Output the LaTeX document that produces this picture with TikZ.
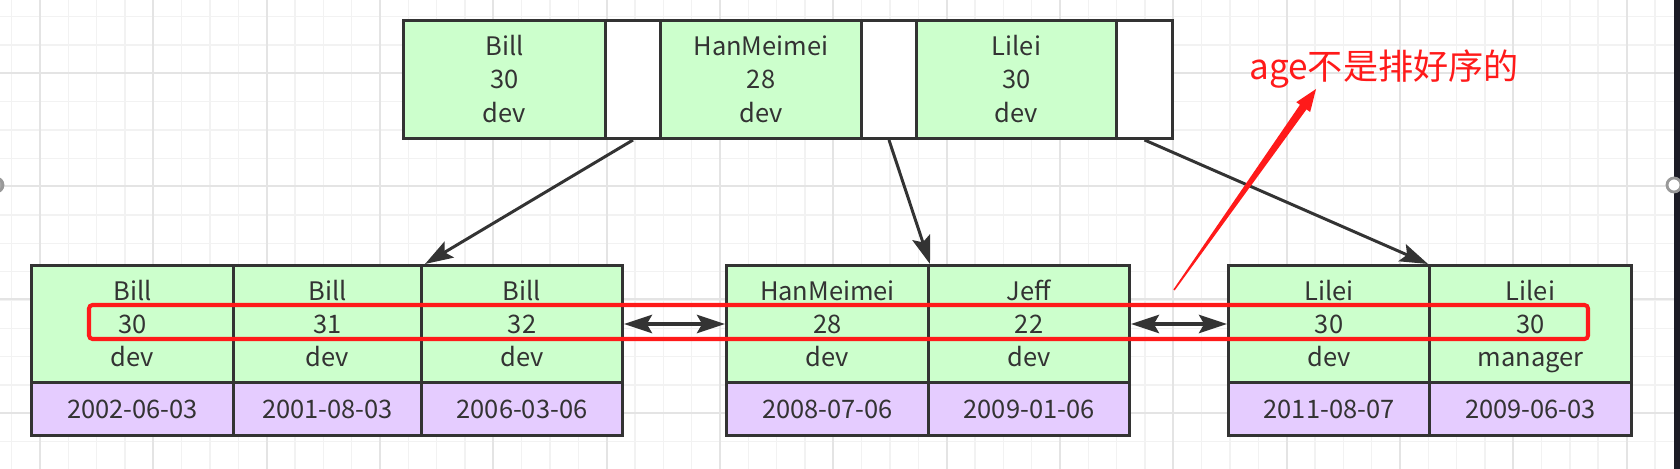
\documentclass[tikz,border=0pt]{standalone}
\usepackage{fontspec}
\setmainfont{Noto Sans CJK SC}
\usetikzlibrary{arrows.meta}
\usetikzlibrary{calc}

\definecolor{cellgreen}{HTML}{CCFFCC}
\definecolor{cellpurple}{HTML}{E5CCFF}
\definecolor{linegray}{HTML}{333333}
\definecolor{gridminor}{HTML}{F2F2F2}
\definecolor{gridmajor}{HTML}{E4E4E4}
\definecolor{notered}{HTML}{FF1A1A}
\definecolor{edgebar}{HTML}{1C1C26}
\newcommand{\pxu}{0.02cm}
\newcommand{\keystrut}{\rule[-3.5pt]{0pt}{17.8pt}}
\newcommand{\rowkey}[3]{\keystrut#1\\\keystrut#2\\\keystrut#3}

\tikzset{
  keycell/.style={draw=linegray, line width=1.7pt, fill=cellgreen, text=linegray,
    inner sep=0pt, anchor=north west, align=center,
    font=\fontsize{14.5}{17}\selectfont},
  ptrcell/.style={keycell, fill=white},
  datecell/.style={keycell, fill=cellpurple},
  gridthin/.style={draw=gridminor, line width=0.8pt},
  gridthick/.style={draw=gridmajor, line width=1pt},
  treearrow/.style={draw=linegray, line width=1.7pt,
    -{Stealth[length=16pt, width=10.5pt, inset=3pt]}},
  linkarrow/.style={draw=linegray, line width=1.8pt,
    {Stealth[length=16pt, width=10.5pt, inset=3pt]}-{Stealth[length=16pt, width=10.5pt, inset=3pt]}}
}

\begin{document}
\begin{tikzpicture}[x=0.02cm, y=-0.02cm]
  \useasboundingbox (0,0) rectangle (1680,469);
  \clip (0,0) rectangle (1680,469);

  % background grid
  \foreach \i in {0,...,59}
    \draw[gridthin] ({11.7+28.33*\i},0) -- ++(0,469);
  \foreach \j in {0,...,16}
    \draw[gridthin] (0,{16.7+28.33*\j}) -- ++(1680,0);
  \foreach \i in {0,...,14}
    \draw[gridthick] ({40+113.33*\i},0) -- ++(0,469);
  \foreach \j in {0,...,3}
    \draw[gridthick] (0,{72.7+113.33*\j}) -- ++(1680,0);

  % root page
  \node[keycell, minimum width=202*\pxu, minimum height=118*\pxu] (t1) at (402,19) {\rowkey{Bill}{30}{dev}};
  \node[ptrcell, minimum width=55*\pxu, minimum height=118*\pxu] (tw1) at (604,19) {};
  \node[keycell, minimum width=201*\pxu, minimum height=118*\pxu] (t2) at (659,19) {\rowkey{HanMeimei}{28}{dev}};
  \node[ptrcell, minimum width=55*\pxu, minimum height=118*\pxu] (tw2) at (860,19) {};
  \node[keycell, minimum width=200*\pxu, minimum height=118*\pxu] (t3) at (915,19) {\rowkey{Lilei}{30}{dev}};
  \node[ptrcell, minimum width=56*\pxu, minimum height=118*\pxu] (tw3) at (1115,19) {};

  % leaf pages
  \node[keycell, minimum width=202*\pxu, minimum height=117*\pxu] (l1) at (30,264) {\rowkey{Bill}{30}{dev}};
  \node[keycell, minimum width=188*\pxu, minimum height=117*\pxu] (l2) at (232,264) {\rowkey{Bill}{31}{dev}};
  \node[keycell, minimum width=201*\pxu, minimum height=117*\pxu] (l3) at (420,264) {\rowkey{Bill}{32}{dev}};
  \node[datecell, minimum width=202*\pxu, minimum height=53*\pxu] (l1d) at (30,381) {2002-06-03};
  \node[datecell, minimum width=188*\pxu, minimum height=53*\pxu] (l2d) at (232,381) {2001-08-03};
  \node[datecell, minimum width=201*\pxu, minimum height=53*\pxu] (l3d) at (420,381) {2006-03-06};

  \node[keycell, minimum width=202*\pxu, minimum height=117*\pxu] (m1) at (725,264) {\rowkey{HanMeimei}{28}{dev}};
  \node[keycell, minimum width=201*\pxu, minimum height=117*\pxu] (m2) at (927,264) {\rowkey{Jeff}{22}{dev}};
  \node[datecell, minimum width=202*\pxu, minimum height=53*\pxu] (m1d) at (725,381) {2008-07-06};
  \node[datecell, minimum width=201*\pxu, minimum height=53*\pxu] (m2d) at (927,381) {2009-01-06};

  \node[keycell, minimum width=201*\pxu, minimum height=117*\pxu] (r1) at (1227,264) {\rowkey{Lilei}{30}{dev}};
  \node[keycell, minimum width=202*\pxu, minimum height=117*\pxu] (r2) at (1428,264) {\rowkey{Lilei}{30}{manager}};
  \node[datecell, minimum width=201*\pxu, minimum height=53*\pxu] (r1d) at (1227,381) {2011-08-07};
  \node[datecell, minimum width=202*\pxu, minimum height=53*\pxu] (r2d) at (1428,381) {2009-06-03};

  % pointers
  \draw[treearrow] (tw1.south) -- ([xshift=5*\pxu]l3.north west);
  \draw[treearrow] (tw2.south) -- ([xshift=3*\pxu]m2.north west);
  \draw[treearrow] (tw3.south) -- (r2.north west);
  \draw[linkarrow] (l3.east) -- (m1.west);
  \draw[linkarrow] (m2.east) -- (r1.west);

  % age highlight
  \node[draw=notered, line width=2.3pt, rounded corners=2pt, inner sep=0pt,
    minimum width=1499*\pxu, minimum height=34*\pxu] (agebox) at (838.5,322) {};
  \node[text=notered, font=\fontsize{20}{24}\selectfont, inner sep=0pt] (agenote) at (1384,69) {age不是排好序的};
  \coordinate (redtail) at (1174,290);
  \coordinate (redtip) at (1316,89);
  \coordinate (hb) at ($(redtip)!0.09!(redtail)$);
  \fill[notered] ($(redtail)!0.016cm!90:(redtip)$) -- ($(hb)!0.08cm!90:(redtip)$)
    -- ($(hb)!0.17cm!90:(redtip)$) -- (redtip) -- ($(hb)!0.17cm!-90:(redtip)$)
    -- ($(hb)!0.08cm!-90:(redtip)$) -- ($(redtail)!0.016cm!-90:(redtip)$) -- cycle;

  % canvas edge
  \fill[edgebar] (1674,0) rectangle (1680,469);
  \draw[gray!80, line width=1.6pt, fill=white] (1674,185) circle (7);
  \draw[gray!80, line width=1.6pt, fill=gray!70] (-4,185) circle (7);
\end{tikzpicture}
\end{document}
